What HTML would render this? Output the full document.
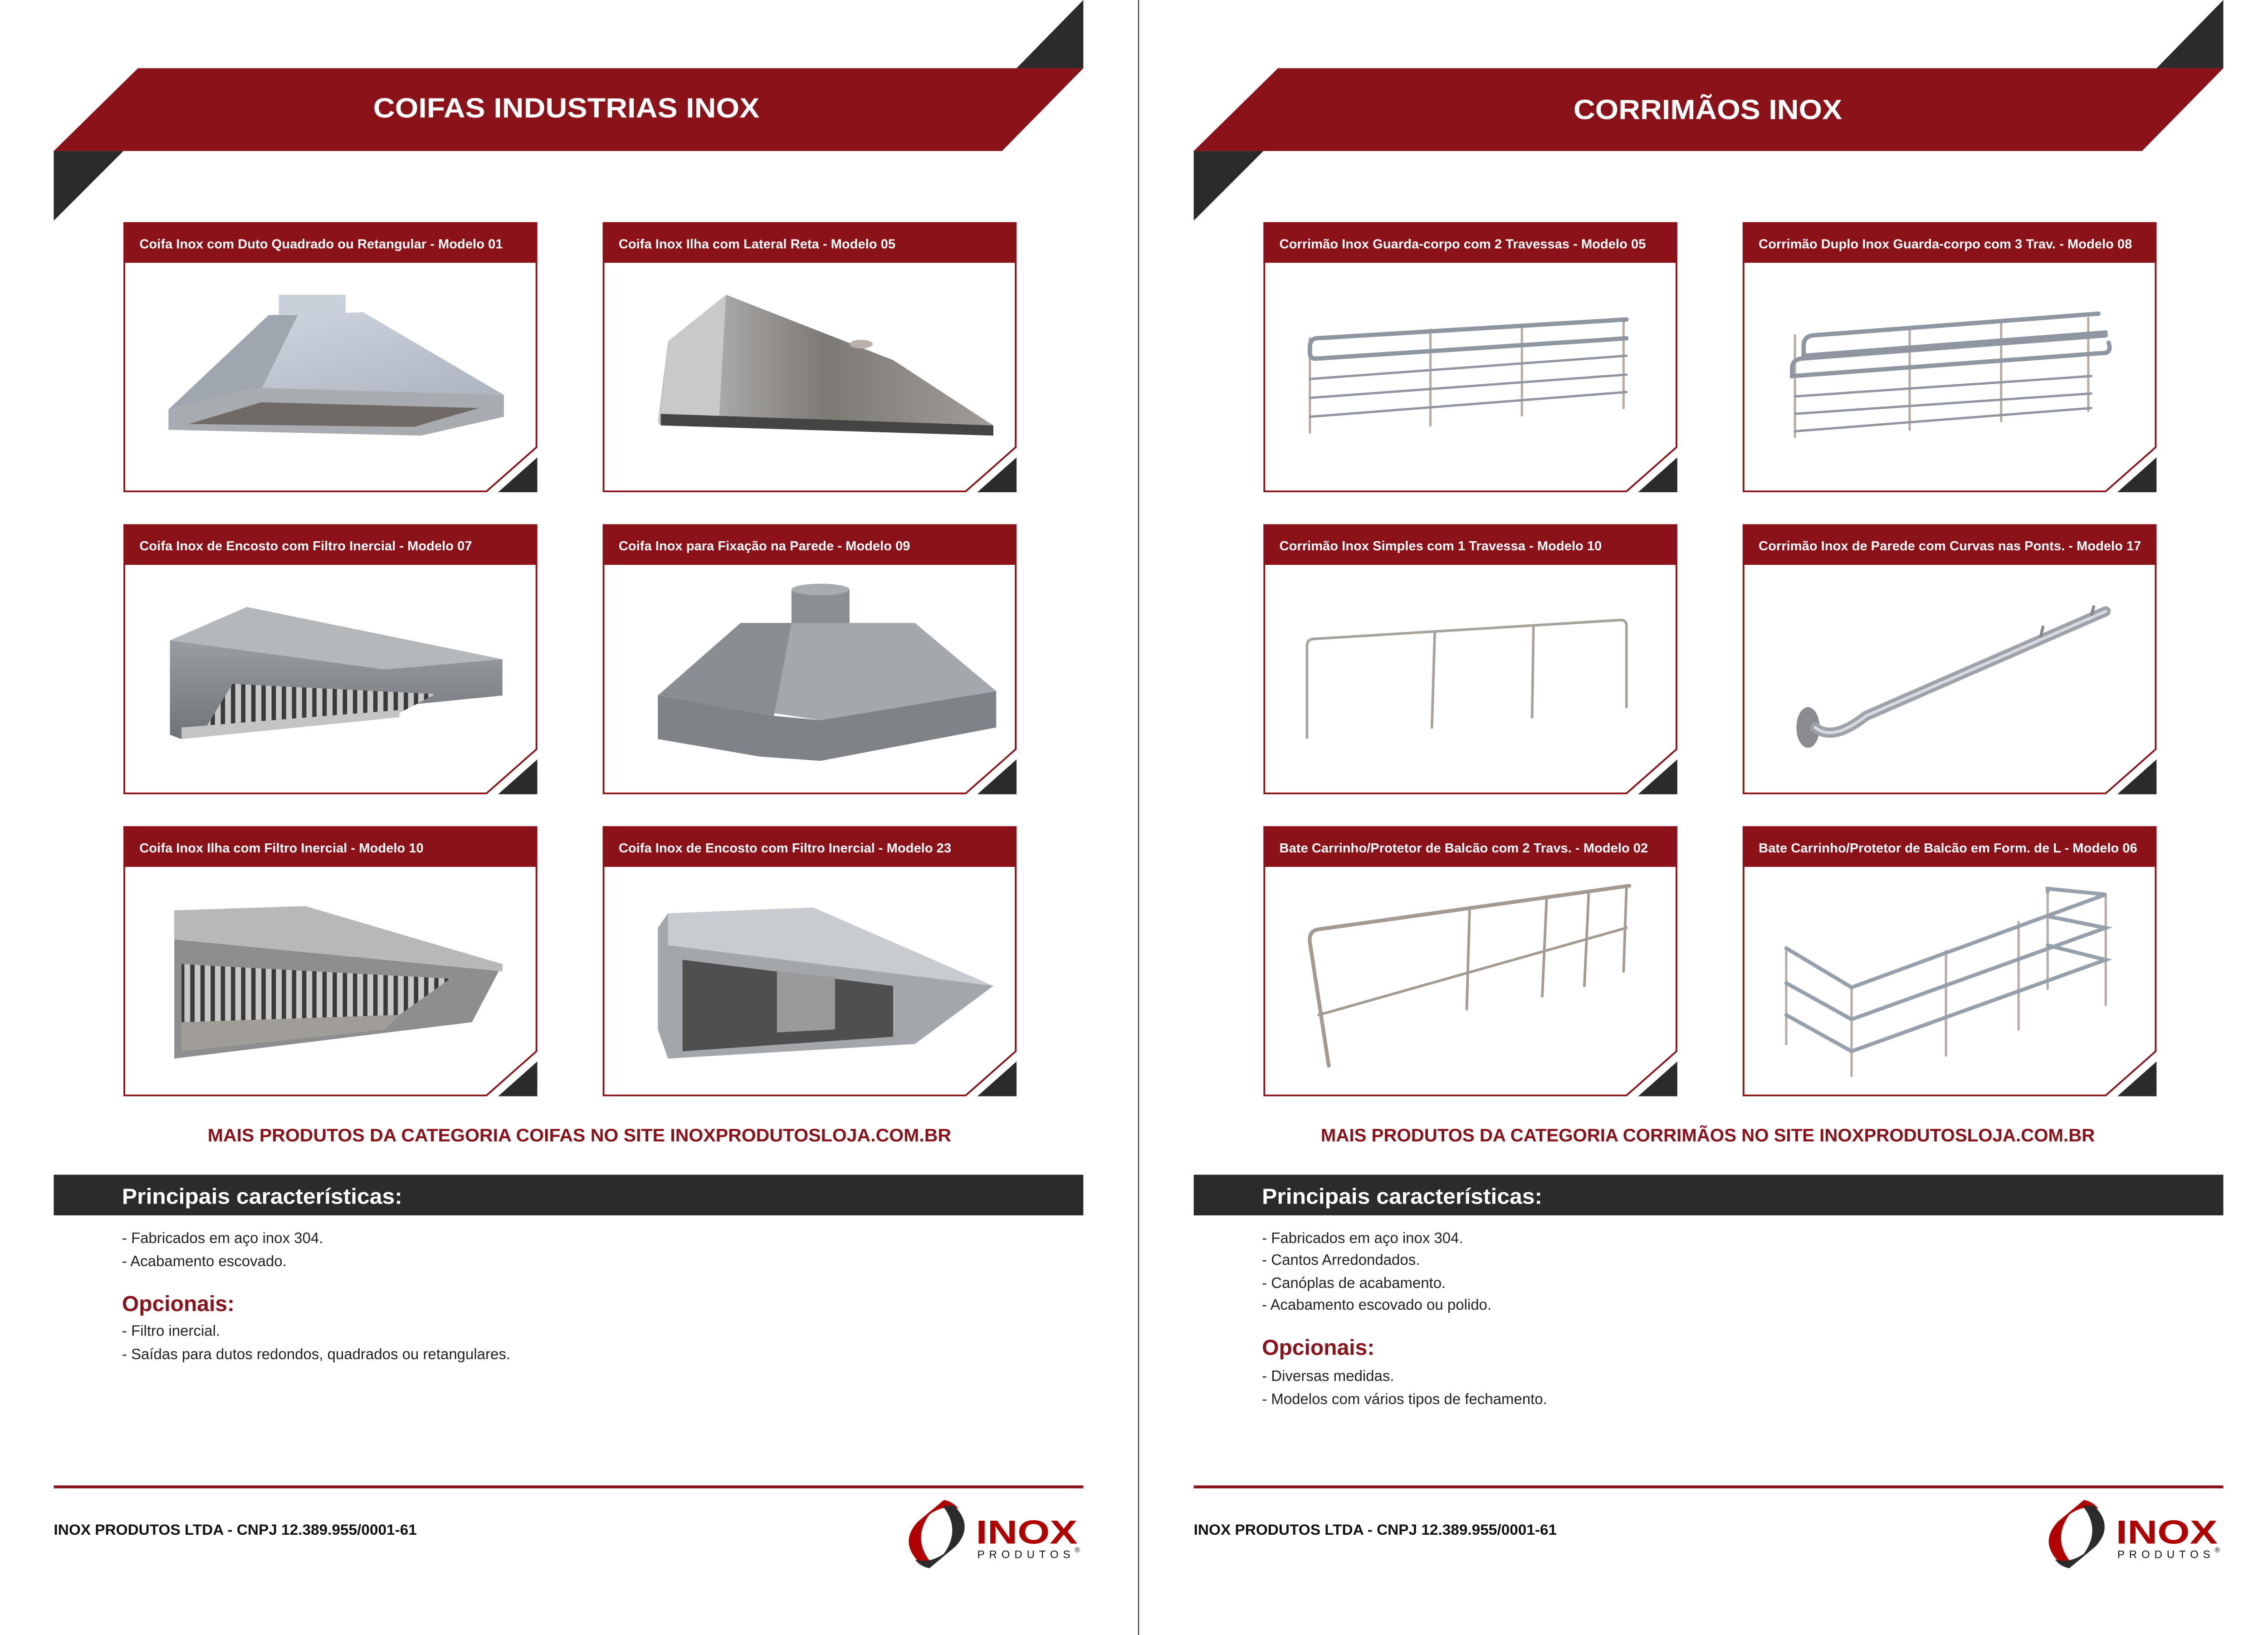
<!DOCTYPE html>
<html><head><meta charset="utf-8"><style>
html,body{margin:0;padding:0;background:#fff;width:5020px;height:3604px;overflow:hidden}
svg{display:block}
text{font-family:"Liberation Sans",Arial,sans-serif}
</style></head><body>
<svg width="5020" height="3604" viewBox="0 0 1568 1126" preserveAspectRatio="none" xmlns="http://www.w3.org/2000/svg">
<defs>
<g id="fr"><path d="M0.6,0.6H284.4V155L250,185.4H0.6Z" fill="#fff" stroke="#8b1218" stroke-width="1.2"/><rect width="285" height="28" fill="#8b1218"/><path d="M258,186H285V162Z" fill="#2b2b2b"/></g>
<pattern id="st" width="7" height="10" patternUnits="userSpaceOnUse"><rect width="7" height="10" fill="#3a3a3a"/><rect width="4" height="10" fill="#c8c8c8"/></pattern>
<linearGradient id="g1" x1="0" y1="0" x2="1" y2="1"><stop offset="0" stop-color="#d4dae4"/><stop offset="1" stop-color="#a9b1bc"/></linearGradient>
<linearGradient id="g2" x1="0" y1="0" x2="1" y2="0"><stop offset="0" stop-color="#c4c4c4"/><stop offset="0.5" stop-color="#7d7975"/><stop offset="1" stop-color="#a19c98"/></linearGradient>
<linearGradient id="g3" x1="0" y1="0" x2="0" y2="1"><stop offset="0" stop-color="#9a9ea3"/><stop offset="1" stop-color="#6e7377"/></linearGradient>
<g id="logo">
<path d="M650,1033 L632,1048 Q619,1062 633,1076 L641,1076 Q628,1060 640,1043 Q650,1036 660,1039 Q656,1034 650,1033Z" fill="#b00000"/>
<path d="M640,1080 L658,1065 Q671,1051 657,1037 L649,1037 Q662,1053 650,1070 Q640,1077 630,1074 Q634,1079 640,1080Z" fill="#2b2b2b"/>
<text x="672" y="1063" font-size="23" font-weight="bold" fill="#b00000" textLength="70" lengthAdjust="spacingAndGlyphs">INOX</text>
<text x="673" y="1073" font-size="7.5" fill="#111" textLength="64" lengthAdjust="spacing">PRODUTOS</text>
<text x="740" y="1069" font-size="5" fill="#111">®</text>
</g>
</defs>
<rect width="1568" height="1126" fill="#fff"/>
<line x1="784" y1="0" x2="784" y2="1126" stroke="#2b2b2b" stroke-width="0.7"/>

<!-- LEFT PAGE -->
<g>
<path d="M700,47 L746,0 V47Z" fill="#2b2b2b"/>
<path d="M95,47 H746 L690,104 H37Z" fill="#8b1218"/>
<path d="M37,104 H85 L37,152Z" fill="#2b2b2b"/>
<text x="390" y="81" font-size="19" font-weight="bold" fill="#fff" text-anchor="middle" textLength="266" lengthAdjust="spacingAndGlyphs">COIFAS INDUSTRIAS INOX</text>

<use href="#fr" x="85" y="153"/><use href="#fr" x="415" y="153"/>
<use href="#fr" x="85" y="361"/><use href="#fr" x="415" y="361"/>
<use href="#fr" x="85" y="569"/><use href="#fr" x="415" y="569"/>
<g font-size="9.1" font-weight="bold" fill="#fff">
<text x="96" y="171">Coifa Inox com Duto Quadrado ou Retangular - Modelo 01</text>
<text x="426" y="171">Coifa Inox Ilha com Lateral Reta - Modelo 05</text>
<text x="96" y="379">Coifa Inox de Encosto com Filtro Inercial - Modelo 07</text>
<text x="426" y="379">Coifa Inox para Fixação na Parede - Modelo 09</text>
<text x="96" y="587">Coifa Inox Ilha com Filtro Inercial - Modelo 10</text>
<text x="426" y="587">Coifa Inox de Encosto com Filtro Inercial - Modelo 23</text>
</g>

<g transform="translate(85,153)">
<polygon points="107,50 153,50 153,64 107,64" fill="#c9d0da"/>
<polygon points="100,64 165,62 262,119 31,129" fill="url(#g1)"/>
<polygon points="100,64 120,64 95,115 31,129" fill="#9ea6b0"/>
<polygon points="31,129 90,114 262,119 262,134 205,147 31,143" fill="#a8acb0"/>
<polygon points="45,139 95,124 245,128 200,141" fill="#6f6a66"/>
</g>
<g transform="translate(415,153)">
<polygon points="85,50 200,95 269,140 269,147 40,140 38,138 45,82" fill="url(#g2)"/>
<polygon points="85,50 45,82 40,135 80,138" fill="#c9c9c9"/>
<polygon points="40,132 269,140 269,147 40,140" fill="#444"/>
<ellipse cx="178" cy="84" rx="8" ry="3" fill="#b8b2aa"/>
</g>
<g transform="translate(85,361)">
<polygon points="85,57 261,93 180,100 32,80" fill="#b5b8bb"/>
<polygon points="32,80 180,100 261,93 261,118 190,125 40,148 32,145" fill="url(#g3)"/>
<polygon points="55,143 75,110 215,117 190,130" fill="url(#st)"/>
<polygon points="40,140 190,128 190,133 40,148" fill="#c4c4c4"/>
</g>
<g transform="translate(415,361)">
<rect x="130" y="45" width="40" height="25" fill="#8c8f92"/>
<ellipse cx="150" cy="45" rx="20" ry="4" fill="#a9acaf"/>
<polygon points="95,68 215,68 271,115 150,135 38,118" fill="#a4a8ac"/>
<polygon points="95,68 130,68 118,132 38,118" fill="#8a8e92"/>
<polygon points="38,118 118,132 150,135 271,115 271,140 150,163 108,160 38,148" fill="#7f8387"/>
</g>
<g transform="translate(85,569)">
<polygon points="35,58 125,55 261,95 240,135 35,160" fill="#8c8e90"/>
<polygon points="35,58 125,55 261,95 261,100 35,78" fill="#b8b8b8"/>
<polygon points="40,95 225,105 190,130 40,135" fill="url(#st)"/>
<polygon points="40,135 190,130 180,140 40,155" fill="#a09c98"/>
</g>
<g transform="translate(415,569)">
<polygon points="45,60 145,56 269,110 215,150 45,160 38,140 38,70" fill="#a3a7ab"/>
<polygon points="45,60 145,56 269,110 45,82" fill="#c8ccd0"/>
<polygon points="55,92 200,110 200,145 55,155" fill="#4f4f4f"/>
<polygon points="120,100 160,104 160,140 120,142" fill="#9a9a9a"/>
</g>

<text x="399" y="786" font-size="12.5" font-weight="bold" fill="#8b1218" text-anchor="middle" textLength="512" lengthAdjust="spacingAndGlyphs">MAIS PRODUTOS DA CATEGORIA COIFAS NO SITE INOXPRODUTOSLOJA.COM.BR</text>
<rect x="37" y="809" width="709" height="28" fill="#2b2b2b"/>
<text x="84" y="829" font-size="15" font-weight="bold" fill="#fff" textLength="193" lengthAdjust="spacingAndGlyphs">Principais características:</text>
<g font-size="10.3" fill="#222">
<text x="84" y="856">- Fabricados em aço inox 304.</text>
<text x="84" y="872">- Acabamento escovado.</text>
<text x="84" y="920">- Filtro inercial.</text>
<text x="84" y="936">- Saídas para dutos redondos, quadrados ou retangulares.</text>
</g>
<text x="84" y="903" font-size="15" font-weight="bold" fill="#8b1218">Opcionais:</text>
<rect x="37" y="1023" width="709" height="2" fill="#8b1218"/>
<text x="37" y="1057" font-size="10" font-weight="bold" fill="#111" textLength="250" lengthAdjust="spacingAndGlyphs">INOX PRODUTOS LTDA - CNPJ 12.389.955/0001-61</text>
<use href="#logo"/>
</g>

<!-- RIGHT PAGE -->
<g>
<path d="M1485,47 L1531,0 V47Z" fill="#2b2b2b"/>
<path d="M880,47 H1531 L1475,104 H822Z" fill="#8b1218"/>
<path d="M822,104 H870 L822,152Z" fill="#2b2b2b"/>
<text x="1176" y="82" font-size="19" font-weight="bold" fill="#fff" text-anchor="middle" textLength="185" lengthAdjust="spacingAndGlyphs">CORRIMÃOS INOX</text>

<use href="#fr" x="870" y="153"/><use href="#fr" x="1200" y="153"/>
<use href="#fr" x="870" y="361"/><use href="#fr" x="1200" y="361"/>
<use href="#fr" x="870" y="569"/><use href="#fr" x="1200" y="569"/>
<g font-size="9.1" font-weight="bold" fill="#fff">
<text x="881" y="171">Corrimão Inox Guarda-corpo com 2 Travessas - Modelo 05</text>
<text x="1211" y="171">Corrimão Duplo Inox Guarda-corpo com 3 Trav. - Modelo 08</text>
<text x="881" y="379">Corrimão Inox Simples com 1 Travessa - Modelo 10</text>
<text x="1211" y="379">Corrimão Inox de Parede com Curvas nas Ponts. - Modelo 17</text>
<text x="881" y="587">Bate Carrinho/Protetor de Balcão com 2 Travs. - Modelo 02</text>
<text x="1211" y="587">Bate Carrinho/Protetor de Balcão em Form. de L - Modelo 06</text>
</g>

<g transform="translate(870,153)" fill="none" stroke-linecap="round">
<g stroke="#b8aca2" stroke-width="1.6">
<line x1="32" y1="80" x2="32" y2="145"/><line x1="115" y1="74" x2="115" y2="140"/><line x1="178" y1="71" x2="178" y2="133"/><line x1="248" y1="67" x2="248" y2="128"/>
</g>
<g stroke="#8e96a2" stroke-width="3">
<path d="M250,67 L36,80 Q32,81 32,86 V90 Q32,94 36,94 L250,80"/>
</g>
<g stroke="#8f96a0" stroke-width="1.6">
<line x1="32" y1="108" x2="250" y2="92"/><line x1="32" y1="121" x2="250" y2="105"/><line x1="32" y1="134" x2="250" y2="117"/>
</g>
</g>
<g transform="translate(1200,153)" fill="none" stroke-linecap="round">
<g stroke="#b8aca2" stroke-width="1.6">
<line x1="36" y1="78" x2="36" y2="148"/><line x1="115" y1="74" x2="115" y2="143"/><line x1="178" y1="70" x2="178" y2="137"/><line x1="238" y1="66" x2="238" y2="130"/>
</g>
<g stroke="#8e96a2" stroke-width="3">
<path d="M245,63 L48,78 Q42,79 42,85 V92 L250,76"/>
<path d="M250,78 L40,94 Q34,95 34,101 V106 L250,90 Q254,89 252,83"/>
</g>
<g stroke="#8f96a0" stroke-width="1.6">
<line x1="36" y1="120" x2="240" y2="106"/><line x1="36" y1="132" x2="240" y2="118"/><line x1="36" y1="144" x2="240" y2="128"/>
</g>
</g>
<g transform="translate(870,361)" fill="none" stroke-linecap="round" stroke="#a8a29c" stroke-width="1.8">
<path d="M30,147 V84 Q30,79 35,79 L246,66 Q250,66 250,70 V126"/>
<line x1="118" y1="74" x2="116" y2="140"/><line x1="186" y1="70" x2="185" y2="133"/>
</g>
<g transform="translate(1200,361)">
<ellipse cx="45" cy="140" rx="8" ry="14" fill="#8a8c8f"/>
<path d="M50,140 Q62,150 85,132 L250,60" fill="none" stroke="#9ea3aa" stroke-width="7" stroke-linecap="round"/>
<path d="M50,140 Q62,150 85,132 L250,60" fill="none" stroke="#d8dce2" stroke-width="2" stroke-linecap="round"/>
<line x1="205" y1="78" x2="207" y2="70" stroke="#888" stroke-width="2"/><line x1="240" y1="63" x2="242" y2="56" stroke="#888" stroke-width="2"/>
</g>
<g transform="translate(870,569)" fill="none" stroke-linecap="round" stroke="#a39a92">
<path d="M45,165 L32,80 Q31,72 38,71 L252,41" stroke-width="2.6"/>
<line x1="38" y1="130" x2="250" y2="70" stroke-width="1.8"/>
<g stroke-width="1.8"><line x1="142" y1="57" x2="140" y2="126"/><line x1="195" y1="50" x2="192" y2="117"/><line x1="224" y1="46" x2="221" y2="110"/><line x1="250" y1="42" x2="248" y2="100"/></g>
</g>
<g transform="translate(1200,569)" fill="none" stroke-linecap="round">
<g stroke="#b8aca2" stroke-width="1.6">
<line x1="30" y1="84" x2="30" y2="150"/><line x1="75" y1="111" x2="75" y2="172"/><line x1="140" y1="86" x2="140" y2="158"/><line x1="190" y1="66" x2="190" y2="140"/><line x1="250" y1="47" x2="250" y2="123"/><line x1="210" y1="43" x2="210" y2="112"/>
</g>
<g stroke="#96a0ad" stroke-width="2.6">
<path d="M30,84 L75,111 L250,47 L210,43 V45"/>
<path d="M30,108 L75,133 L250,70 L210,62"/>
<path d="M30,130 L75,155 L250,92 L210,82"/>
</g>
</g>

<text x="1176" y="786" font-size="12.5" font-weight="bold" fill="#8b1218" text-anchor="middle" textLength="533" lengthAdjust="spacingAndGlyphs">MAIS PRODUTOS DA CATEGORIA CORRIMÃOS NO SITE INOXPRODUTOSLOJA.COM.BR</text>
<rect x="822" y="809" width="709" height="28" fill="#2b2b2b"/>
<text x="869" y="829" font-size="15" font-weight="bold" fill="#fff" textLength="193" lengthAdjust="spacingAndGlyphs">Principais características:</text>
<g font-size="10.3" fill="#222">
<text x="869" y="856">- Fabricados em aço inox 304.</text>
<text x="869" y="871">- Cantos Arredondados.</text>
<text x="869" y="887">- Canóplas de acabamento.</text>
<text x="869" y="902">- Acabamento escovado ou polido.</text>
<text x="869" y="951">- Diversas medidas.</text>
<text x="869" y="967">- Modelos com vários tipos de fechamento.</text>
</g>
<text x="869" y="933" font-size="15" font-weight="bold" fill="#8b1218">Opcionais:</text>
<rect x="822" y="1023" width="709" height="2" fill="#8b1218"/>
<text x="822" y="1057" font-size="10" font-weight="bold" fill="#111" textLength="250" lengthAdjust="spacingAndGlyphs">INOX PRODUTOS LTDA - CNPJ 12.389.955/0001-61</text>
<use href="#logo" x="785"/>
</g>
</svg>
</body></html>
